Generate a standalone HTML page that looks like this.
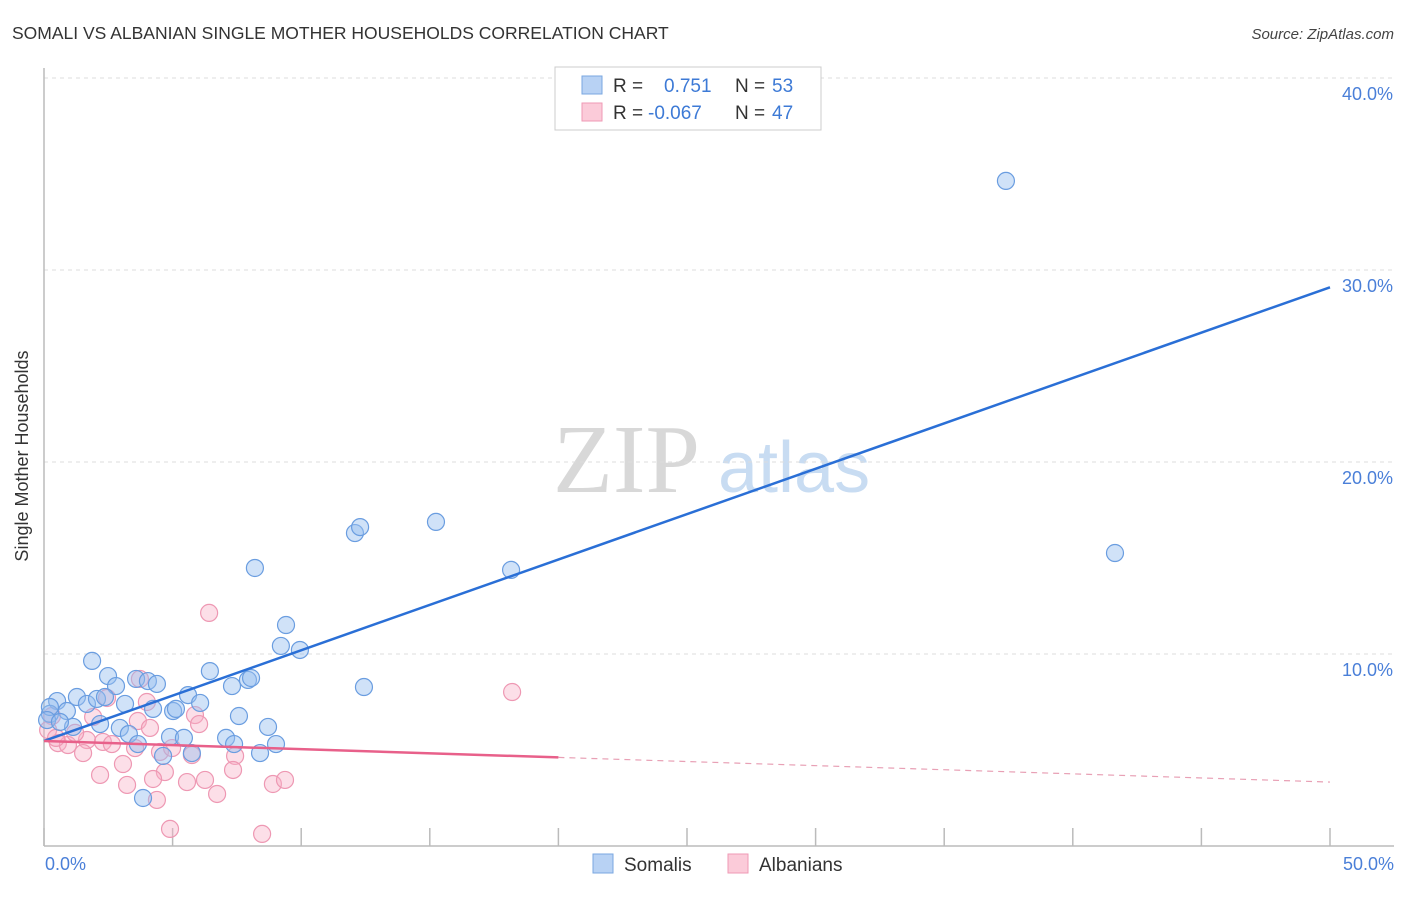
<!DOCTYPE html>
<html><head><meta charset="utf-8"><style>
body{margin:0;background:#fff;font-family:"Liberation Sans",sans-serif;}
svg text{font-family:"Liberation Sans",sans-serif;}
</style></head><body>
<svg width="1406" height="892" viewBox="0 0 1406 892" xmlns="http://www.w3.org/2000/svg">
<text x="12" y="39" font-size="17.5" fill="#333">SOMALI VS ALBANIAN SINGLE MOTHER HOUSEHOLDS CORRELATION CHART</text>
<text x="1394" y="39" font-size="15" fill="#444" font-style="italic" text-anchor="end">Source: ZipAtlas.com</text>
<g>
<text x="553" y="492" font-size="98" fill="#d8d8d8" font-family="Liberation Serif, serif" style="font-family:'Liberation Serif',serif">ZIP</text>
<text x="718" y="492" font-size="72" fill="#c8dcf2">atlas</text>
</g>
<g id="grid"></g>
<line x1="44" y1="68" x2="44" y2="846" stroke="#bbb" stroke-width="1.5"/>
<line x1="44" y1="846" x2="1394" y2="846" stroke="#bbb" stroke-width="1.5"/>
<text x="28" y="456" font-size="18" fill="#333" text-anchor="middle" transform="rotate(-90 28 456)">Single Mother Households</text>
<text x="45" y="870" font-size="18" fill="#4a7fd8">0.0%</text>
<text x="1394" y="870" font-size="18" fill="#4a7fd8" text-anchor="end">50.0%</text>
<g id="pts"></g>
<g id="lines"></g>
<g>
<rect x="555" y="67" width="266" height="63" fill="#fff" stroke="#ccc"/>
<rect x="582" y="76" width="20" height="18" fill="#b8d2f4" stroke="#7aa7e0"/>
<rect x="582" y="103" width="20" height="18" fill="#fbcbd9" stroke="#ef9ab5"/>
<text x="613" y="92" font-size="19" fill="#333">R =</text>
<text x="664" y="92" font-size="19" fill="#3d7ad6">0.751</text>
<text x="735" y="92" font-size="19" fill="#333">N =</text>
<text x="772" y="92" font-size="19" fill="#3d7ad6">53</text>
<text x="613" y="119" font-size="19" fill="#333">R =</text>
<text x="648" y="119" font-size="19" fill="#3d7ad6">-0.067</text>
<text x="735" y="119" font-size="19" fill="#333">N =</text>
<text x="772" y="119" font-size="19" fill="#3d7ad6">47</text>
</g>
<g>
<rect x="593" y="854" width="20" height="19" fill="#b8d2f4" stroke="#7aa7e0"/>
<text x="624" y="871" font-size="19" fill="#333">Somalis</text>
<rect x="728" y="854" width="20" height="19" fill="#fbcbd9" stroke="#ef9ab5"/>
<text x="759" y="871" font-size="19" fill="#333">Albanians</text>
</g>
</svg>
<script>
const yTicks=[10,20,30,40];
const yTickLabels=["10.0%","20.0%","30.0%","40.0%"];
const xTicks=[0,5,10,15,20,25,30,35,40,45,50];
const somaliX=[1.87,2.49,2.80,3.58,4.04,4.39,9.41,9.21,9.95,6.45,7.31,7.93,8.05,0.51,1.28,1.67,2.06,2.37,5.60,6.07,3.15,4.24,5.02,5.13,0.89,0.23,0.23,2.18,1.13,2.95,3.30,7.58,8.71,4.90,5.44,7.08,7.39,9.02,3.65,4.63,5.75,8.40,3.85,37.40,41.64,15.24,12.09,12.29,8.20,18.16,12.44,0.12,0.62];
const somaliY=[9.64,8.85,8.33,8.70,8.59,8.44,11.51,10.42,10.21,9.11,8.33,8.65,8.75,7.55,7.76,7.40,7.66,7.76,7.86,7.45,7.40,7.14,7.03,7.14,7.03,6.88,7.24,6.35,6.20,6.15,5.83,6.77,6.20,5.68,5.63,5.63,5.31,5.31,5.31,4.69,4.84,4.84,2.50,34.64,15.26,16.88,16.30,16.61,14.48,14.38,8.28,6.56,6.46];
const albX=[6.42,3.73,2.45,4.00,0.31,1.91,3.65,4.12,5.87,6.03,1.67,2.29,2.64,0.54,0.93,1.52,3.54,4.51,4.98,5.75,7.43,3.07,2.18,4.70,4.24,5.56,6.26,7.35,3.23,8.90,9.37,4.39,6.73,4.90,8.48,18.20,0.16,0.47,1.21];
const albY=[12.14,8.70,7.71,7.50,6.77,6.72,6.51,6.15,6.82,6.35,5.52,5.42,5.31,5.36,5.26,4.84,5.10,4.90,5.10,4.74,4.69,4.27,3.70,3.85,3.49,3.33,3.44,3.96,3.18,3.23,3.44,2.40,2.71,0.89,0.63,8.02,6.04,5.63,5.89];
const somaliLine=[5.47,29.1];
const albLine=[5.47,3.33];
const albSolidEnd=20;
const NS="http://www.w3.org/2000/svg";
const X=v=>44+v*25.72, Y=v=>846-v*19.2;
function mk(t,a,p){const e=document.createElementNS(NS,t);for(const k in a)e.setAttribute(k,a[k]);p.appendChild(e);return e;}
const grid=document.getElementById('grid');
yTicks.forEach((t,i)=>{
  const l=mk('line',{x1:44,x2:1394,y1:Y(t),y2:Y(t),stroke:'#ddd','stroke-dasharray':'4,4'},grid);
  
  
  const tx=mk('text',{x:1393,y:Y(t)+22,'font-size':18,fill:'#4a7fd8','text-anchor':'end'},grid);
  tx.textContent=yTickLabels[i];
  
  
});
xTicks.forEach(t=>{
  const l=mk('line',{x1:X(t),x2:X(t),y1:828,y2:846,stroke:'#bbb','stroke-width':1.5},grid);
  
  
});
const pts=document.getElementById('pts');
albX.forEach((x,i)=>{
  const c=mk('circle',{cx:X(x),cy:Y(albY[i]),r:8.5,fill:'rgba(248,176,198,0.4)',stroke:'#ee98b3','stroke-width':1.2},pts);
  
  
});
somaliX.forEach((x,i)=>{
  const c=mk('circle',{cx:X(x),cy:Y(somaliY[i]),r:8.5,fill:'rgba(150,190,240,0.45)',stroke:'#6a9de0','stroke-width':1.2},pts);
  
  
});
const lines=document.getElementById('lines');
const bl=mk('line',{x1:X(0),y1:Y(somaliLine[0]),x2:X(50),y2:Y(somaliLine[1]),stroke:'#2a6fd6','stroke-width':2.5},lines);


const aAt=x=>albLine[0]+(albLine[1]-albLine[0])*x/50;
const al=mk('line',{x1:X(0),y1:Y(aAt(0)),x2:X(albSolidEnd),y2:Y(aAt(albSolidEnd)),stroke:'#e8608a','stroke-width':2.5},lines);


const ad=mk('line',{x1:X(albSolidEnd),y1:Y(aAt(albSolidEnd)),x2:X(50),y2:Y(aAt(50)),stroke:'#e8a0b5','stroke-width':1.2,'stroke-dasharray':'6,5'},lines);


</script>
</body></html>
